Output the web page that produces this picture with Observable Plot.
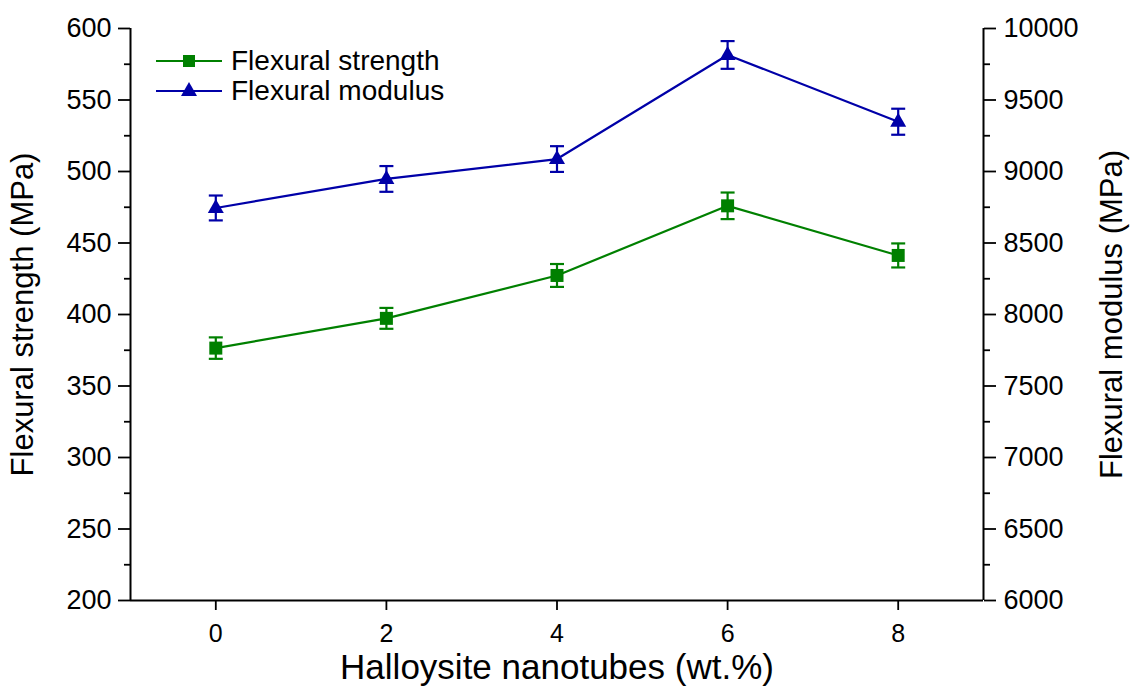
<!DOCTYPE html>
<html>
<head>
<meta charset="utf-8">
<script src="https://cdn.jsdelivr.net/npm/d3@7"></script>
<script src="https://cdn.jsdelivr.net/npm/@observablehq/plot@0.6"></script>
<style>
  html, body { margin: 0; padding: 0; background: #fff; }
  #wrap { position: relative; width: 1135px; height: 689px; font-family: "Liberation Sans", Arial, sans-serif; }
  #legend { position: absolute; left: 155px; top: 46px; font-size: 28px; color: #000; }
  #legend .row { display: flex; align-items: center; height: 30px; }
  #legend svg { margin-right: 8px; }
</style>
</head>
<body>
<div id="wrap"><div id="legend"></div></div>
<script>
// ---- data ----
const loading = [0, 2, 4, 6, 8];                       // Halloysite nanotubes (wt.%)
const strength = [376.5, 397.3, 427.3, 476.0, 441.3];  // MPa
const strengthErr = [7.5, 7.3, 8.0, 9.3, 8.4];
const modulus = [8745, 8948, 9087, 9815, 9348];        // MPa
const modulusErr = [87, 90, 90, 97, 91];
const xTicks = [0, 2, 4, 6, 8];
const leftTicks = [200, 250, 300, 350, 400, 450, 500, 550, 600];
const leftMinor = [225, 275, 325, 375, 425, 475, 525, 575];
const rightTicks = [6000, 6500, 7000, 7500, 8000, 8500, 9000, 9500, 10000];
const rightMinor = [6250, 6750, 7250, 7750, 8250, 8750, 9250, 9750];
const xDomain = [-1, 9];
const leftDomain = [200, 600];
const rightDomain = [6000, 10000];
const seriesNames = ["Flexural strength", "Flexural modulus"];
const colors = ["#008000", "#0000a8"];

// map right-axis values onto the left scale
const k = (leftDomain[1] - leftDomain[0]) / (rightDomain[1] - rightDomain[0]);
const toLeft = m => leftDomain[0] + (m - rightDomain[0]) * k;
const fromLeft = v => rightDomain[0] + (v - leftDomain[0]) / k;

const sData = loading.map((x, i) => ({x, y: strength[i], lo: strength[i] - strengthErr[i], hi: strength[i] + strengthErr[i]}));
const mData = loading.map((x, i) => ({x, y: toLeft(modulus[i]), lo: toLeft(modulus[i] - modulusErr[i]), hi: toLeft(modulus[i] + modulusErr[i])}));

const cap = {draw(ctx, size) { ctx.moveTo(-7, 0); ctx.lineTo(7, 0); }};
const tri = {draw(ctx, size) { ctx.moveTo(0, -9); ctx.lineTo(8, 5); ctx.lineTo(-8, 5); ctx.closePath(); }};
const sq = {draw(ctx, size) { ctx.rect(-6.5, -6.5, 13, 13); }};

function series(data, color, symbol) {
  return [
    Plot.line(data, {x: "x", y: "y", stroke: color, strokeWidth: 2.2}),
    Plot.ruleX(data, {x: "x", y1: "lo", y2: "hi", stroke: color, strokeWidth: 2.2}),
    Plot.dot(data, {x: "x", y: "lo", symbol: cap, stroke: color, strokeWidth: 2.2, fill: "none"}),
    Plot.dot(data, {x: "x", y: "hi", symbol: cap, stroke: color, strokeWidth: 2.2, fill: "none"}),
    Plot.dot(data, {x: "x", y: "y", symbol, fill: color, stroke: "none"})
  ];
}

const chart = Plot.plot({
  width: 1135,
  height: 689,
  marginLeft: 130,
  marginRight: 152,
  marginTop: 28,
  marginBottom: 89,
  style: {fontFamily: "Liberation Sans, Arial, sans-serif", color: "#000", background: "#fff"},
  x: {domain: xDomain},
  y: {domain: leftDomain},
  marks: [
    Plot.ruleX(xDomain, {stroke: "#000", strokeWidth: 2}),
    Plot.ruleY([leftDomain[0]], {stroke: "#000", strokeWidth: 2}),
    Plot.axisX(xTicks, {tickSize: 10, tickPadding: 14, fontSize: 25, label: "Halloysite nanotubes (wt.%)", labelAnchor: "center", labelOffset: 78, labelArrow: "none", strokeWidth: 1.8}),
    Plot.axisY(leftTicks, {anchor: "left", tickSize: 12, tickPadding: 7, fontSize: 27, label: "Flexural strength (MPa)", labelAnchor: "center", labelOffset: 120, labelArrow: "none", strokeWidth: 1.8}),
    Plot.axisY(leftMinor, {anchor: "left", tickSize: 6, tickFormat: () => "", label: null, strokeWidth: 1.8}),
    Plot.axisY(rightTicks.map(toLeft), {anchor: "right", tickSize: 12, tickPadding: 8, fontSize: 27, tickFormat: v => String(Math.round(fromLeft(v))), label: "Flexural modulus (MPa)", labelAnchor: "center", labelOffset: 138, labelArrow: "none", strokeWidth: 1.8}),
    Plot.axisY(rightMinor.map(toLeft), {anchor: "right", tickSize: 6, tickFormat: () => "", label: null, strokeWidth: 1.8}),
    ...series(sData, colors[0], sq),
    ...series(mData, colors[1], tri)
  ]
});

d3.select(chart).selectAll('g[aria-label="y-axis label"] text').style("font-size", "31px");
d3.select(chart).selectAll('g[aria-label="x-axis label"] text').style("font-size", "35px");
document.getElementById("wrap").prepend(chart);

// legend
const legend = d3.select("#legend");
seriesNames.forEach((name, i) => {
  const row = legend.append("div").attr("class", "row");
  const s = row.append("svg").attr("width", 68).attr("height", 24);
  s.append("line").attr("x1", 1).attr("x2", 67).attr("y1", 12).attr("y2", 12).attr("stroke", colors[i]).attr("stroke-width", 2);
  if (i === 0) s.append("rect").attr("x", 28).attr("y", 6).attr("width", 12).attr("height", 12).attr("fill", colors[i]);
  else s.append("path").attr("d", "M34,3L42,17L26,17Z").attr("fill", colors[i]);
  row.append("span").text(name);
});
</script>
</body>
</html>
